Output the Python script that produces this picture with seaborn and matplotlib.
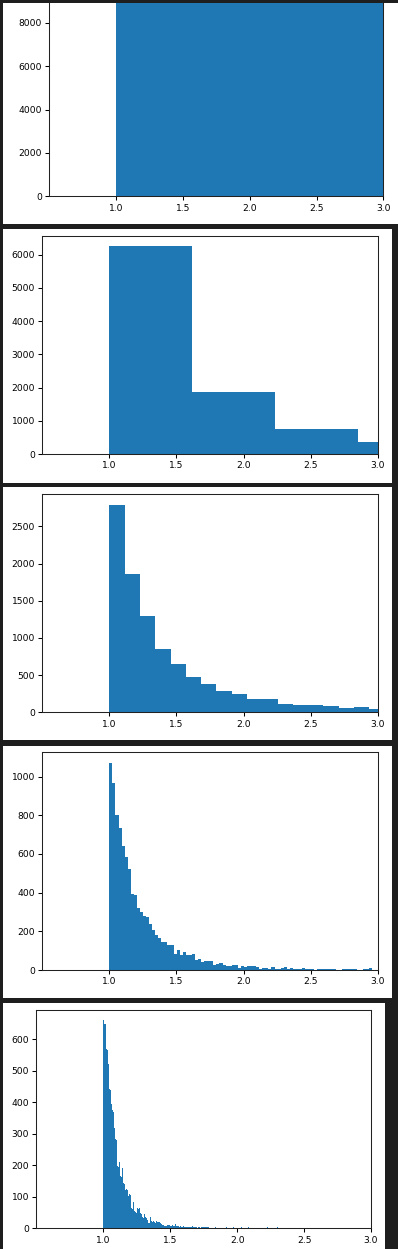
import numpy as np
import matplotlib
matplotlib.use("Agg")
import matplotlib.pyplot as plt
from matplotlib.patches import Rectangle
from matplotlib.ticker import MultipleLocator, FixedLocator
import seaborn as sns

# ---------------- data ----------------
x_start = 1.0
x_ticks = [1.0, 1.5, 2.0, 2.5, 3.0]

p1_width = 6.17
p1_counts = [10000]

p2_width = 0.617
p2_counts = [6250, 1856, 752, 361]

p3_width = 0.114
p3_counts = [2792, 1862, 1297, 853, 655, 476, 381, 287, 247, 180,
             180, 112, 99, 99, 85, 58, 72, 45]

p4_width = 0.0228
p4_counts = [1072, 969, 802, 734, 641, 584, 524, 393, 388, 321,
             300, 281, 274, 238, 207, 183, 167, 145, 145, 129,
             129, 84, 103, 78, 93, 78, 78, 83, 52, 57,
             41, 47, 47, 47, 26, 31, 36, 26, 21, 21,
             26, 26, 10, 21, 16, 21, 21, 21, 16, 5,
             10, 10, 5, 16, 5, 5, 10, 16, 5, 10,
             5, 5, 5, 10, 5, 5, 5, 0, 5, 5,
             5, 5, 5, 5, 0, 0, 5, 5, 5, 5,
             5, 0, 0, 5, 5, 10, 0, 0]

p5_width = 0.00456
p5_counts = [660, 655, 650, 648, 573, 570, 566, 526, 520, 489,
             443, 440, 400, 396, 389, 374, 370, 322, 318, 300,
             284, 280, 240, 198, 195, 214, 210, 222, 167, 164,
             195, 190, 128, 145, 140, 124, 121, 120, 126, 122,
             100, 103, 100, 109, 105, 79, 63, 60, 87, 84,
             63, 54, 51, 54, 50, 52, 63, 60, 63, 63,
             60, 47, 44, 37, 37, 34, 49, 46, 37, 37,
             34, 30, 27, 18, 18, 16, 18, 37, 33, 24,
             21, 24, 24, 21, 20, 18, 20, 23, 20, 23,
             20, 14, 20, 17, 14, 14, 12, 11, 9, 11,
             8, 8, 8, 6, 23, 11, 9, 8, 11, 9,
             8, 7, 17, 11, 9, 8, 6, 8, 14, 10,
             8, 6, 6, 6, 5, 6, 6, 5, 4, 4,
             4, 6, 6, 4, 4, 4, 4, 4, 4, 4,
             4, 4, 4, 4, 4, 4, 7, 5, 4, 4,
             3, 5, 3, 4, 0, 5, 4, 3, 5, 2,
             4, 5, 3, 0, 4, 5, 3, 4, 2, 5,
             3, 4, 3]
p5_tail_x = [1.836, 1.866, 1.918, 1.972, 2.028, 2.033, 2.084, 2.142, 2.177, 2.229, 2.304]
p5_tail_counts = [3, 5, 3, 3, 5, 3, 3, 3, 5, 3, 3]

y_steps = [2000, 1000, 500, 200, 100]

# ---------------- layout (pixels) ----------------
W, H = 398, 1249
BG = "#1e1e1e"
BAR = "#1f77b4"
panels = [(3, 3, 398, 224), (3, 229, 392, 483), (3, 487, 392, 740),
          (3, 746, 392, 998), (3, 1003, 385, 1249)]
# first panel is a cropped view: its visible top sits at y=3 px
axes_px = [(49.3, 3, 383.3, 196.3), (42.3, 236, 377.7, 454),
           (42.3, 494.3, 377.7, 712.3), (42.3, 752.3, 377.7, 970),
           (36.3, 1010, 371, 1228.3)]
p1_visible_top = 8923

plt.rcParams.update({
    "font.family": ["DejaVu Sans"],
    "font.size": 6.6,
    "axes.linewidth": 0.75,
    "xtick.major.size": 2.6, "ytick.major.size": 2.6,
    "xtick.major.width": 0.75, "ytick.major.width": 0.75,
    "xtick.major.pad": 2.6, "ytick.major.pad": 2.6,
})

fig = plt.figure(figsize=(W / 100, H / 100), dpi=100)
fig.patch.set_facecolor(BG)
for (x0, y0, x1, y1) in panels:
    fig.patches.append(Rectangle((x0 / W, 1 - y1 / H), (x1 - x0) / W, (y1 - y0) / H,
                                 transform=fig.transFigure, facecolor="white",
                                 edgecolor="none", zorder=-10))


def centers(width, n):
    return [x_start + width * (i + 0.5) for i in range(n)]


datasets = [
    (centers(p1_width, len(p1_counts)), p1_counts, p1_width, 1),
    (centers(p2_width, len(p2_counts)), p2_counts, p2_width, len(p2_counts)),
    (centers(p3_width, len(p3_counts)), p3_counts, p3_width, len(p3_counts)),
    (centers(p4_width, len(p4_counts)), p4_counts, p4_width, len(p4_counts)),
    (centers(p5_width, len(p5_counts)) + p5_tail_x, p5_counts + p5_tail_counts,
     p5_width, int(np.ceil(2.0 / p5_width))),
]

for i, ((xs, ws, width, nb), (l, t, r, b), step) in enumerate(zip(datasets, axes_px, y_steps)):
    ax = fig.add_axes([l / W, 1 - b / H, (r - l) / W, (b - t) / H])
    ax.set_zorder(5)
    ax.set_facecolor("white")
    edges = [x_start + width * k for k in range(nb + 1)]
    sns.histplot(x=np.array(xs), weights=np.array(ws, dtype=float), bins=edges,
                 ax=ax, color=BAR, alpha=1.0, linewidth=0, edgecolor="none")
    ax.set_xlim(0.5, 3.0)
    ax.xaxis.set_major_locator(FixedLocator(x_ticks))
    ax.yaxis.set_major_locator(MultipleLocator(step))
    ax.set_xlabel("")
    ax.set_ylabel("")
    for s in ax.spines.values():
        s.set_color("#222222")
    if i == 0:
        ax.set_ylim(0, p1_visible_top)
        ax.spines["top"].set_visible(False)

fig.savefig("out.png", dpi=100, facecolor=BG)
